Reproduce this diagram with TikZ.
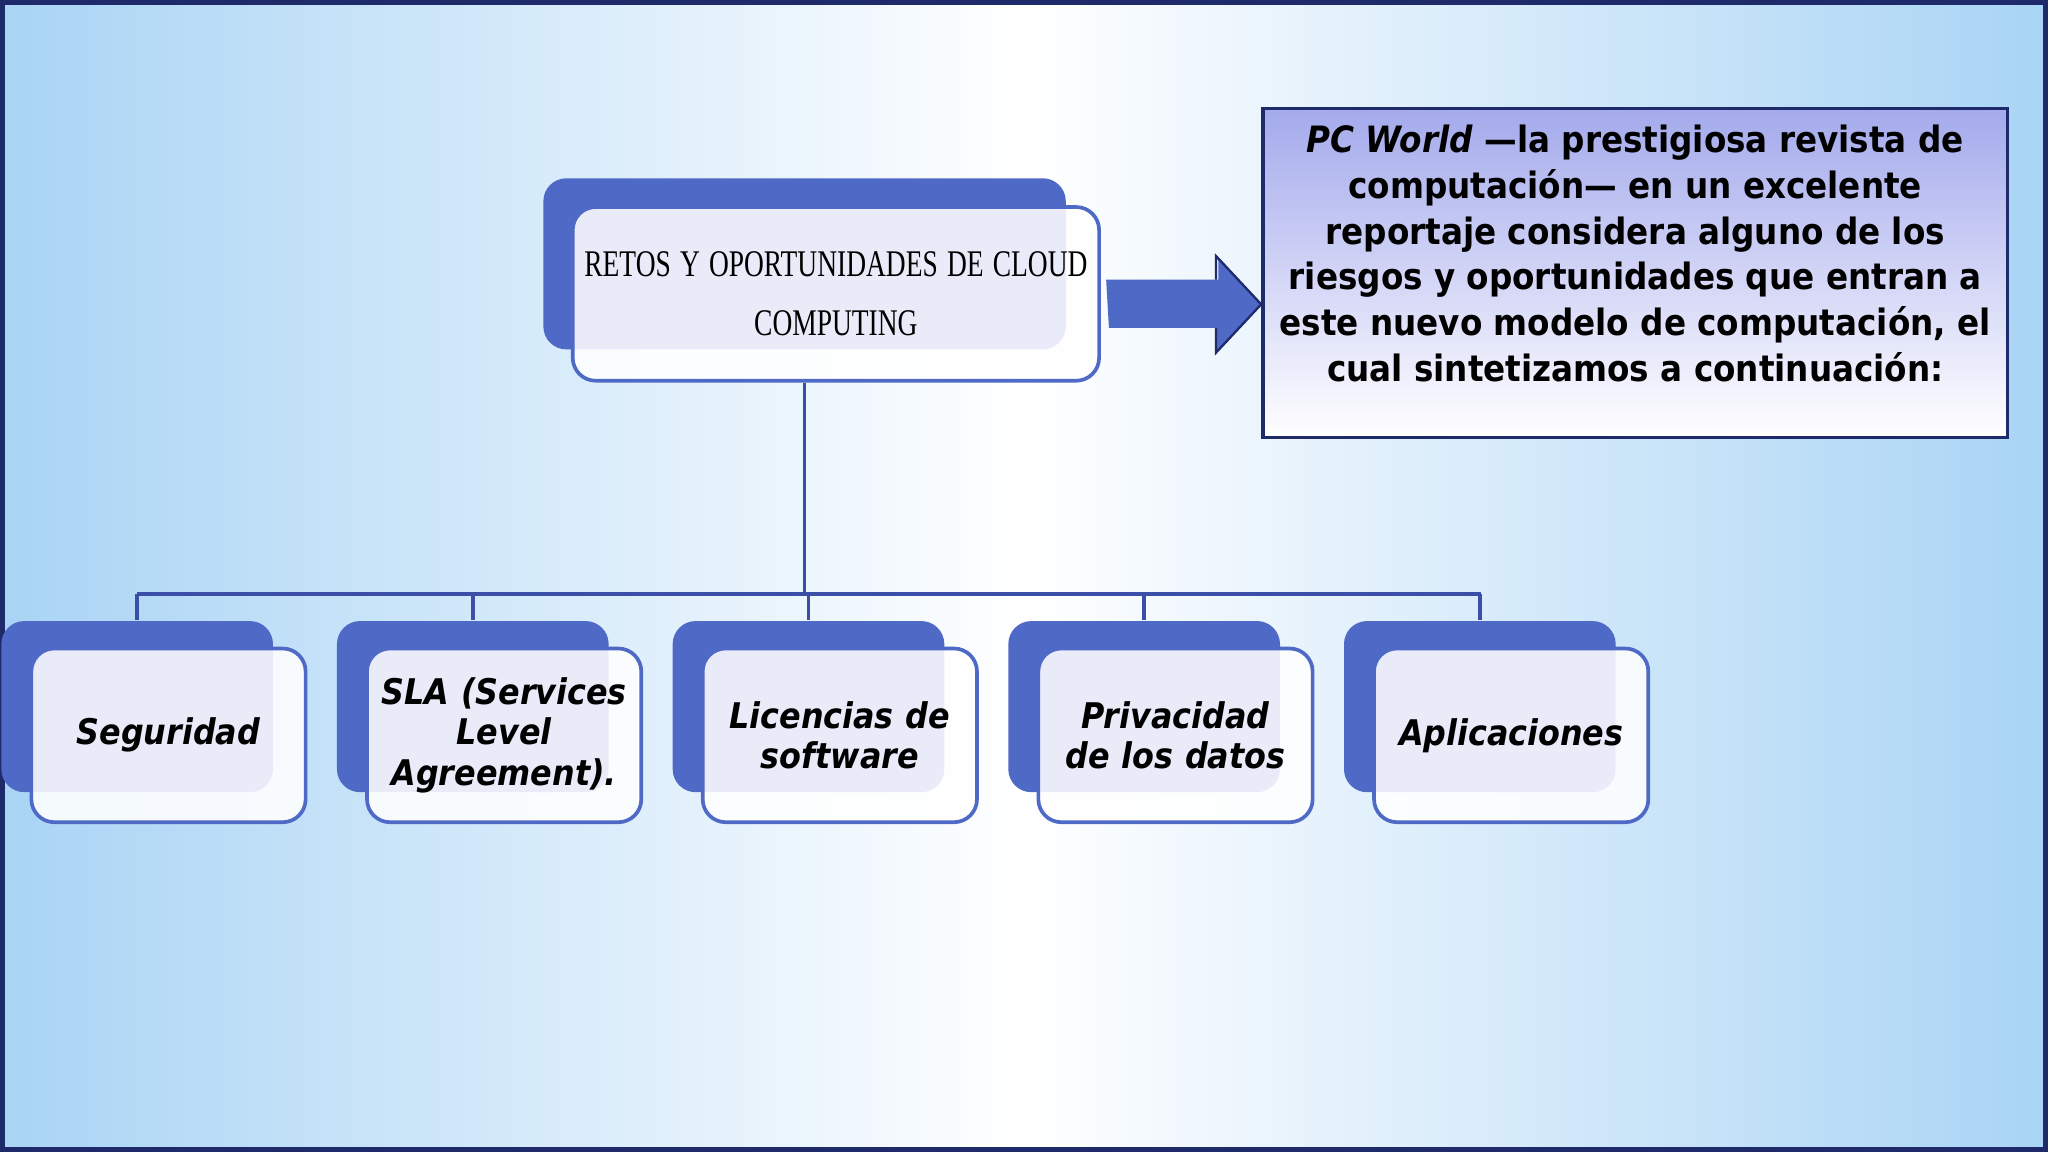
\documentclass[tikz,border=0pt]{standalone}
\usepackage{fontspec}
\setmainfont{DejaVu Sans}
\newfontfamily\titlefont{Liberation Serif}
\newfontfamily\condfont{DejaVu Sans Condensed}
\usetikzlibrary{positioning}
\definecolor{boxblue}{HTML}{4F69C6}
\definecolor{linkblue}{HTML}{3B4FA8}
\definecolor{navy}{HTML}{1F2A6B}
\definecolor{skyblue}{HTML}{A9D4F5}
\definecolor{lavender}{HTML}{A4AAEC}
\tikzset{
  back/.style={fill=boxblue, rounded corners=5pt, minimum width=20.8mm, minimum height=13.1mm},
  front/.style={fill=white, fill opacity=0.88, text opacity=1, draw=boxblue, line width=0.8pt,
    rounded corners=5pt, minimum width=21mm, minimum height=13.3mm, align=center, text width=19mm,
    inner sep=0pt, font=\condfont\fontsize{7.7pt}{8.8pt}\selectfont\bfseries\itshape},
  link/.style={draw=linkblue, line width=0.8pt}
}
\begin{document}
\begin{tikzpicture}[x=0.1mm, y=-0.1mm]
\useasboundingbox (0,0) rectangle (1568,882);
% fondo
\shade[left color=skyblue, right color=white] (0,0) rectangle (784,882);
\shade[left color=white, right color=skyblue] (784,0) rectangle (1568,882);
\draw[navy, line width=1.2pt] (2,2) rectangle (1566,880);
% titulo
\node[back, minimum width=40mm] (tback) at (616,202) {};
\node[front, minimum width=40.3mm, text width=39mm, font=\titlefont\fontsize{8.2pt}{12.8pt}\selectfont] (title) at (640,225)
  {\scalebox{0.73}[1]{RETOS Y OPORTUNIDADES DE CLOUD}\\ \scalebox{0.73}[1]{COMPUTING}};
% texto
\shade[top color=lavender, bottom color=white] (967,83) rectangle (1537,335);
\node[draw=navy, line width=0.8pt, minimum width=57mm, minimum height=25.2mm] (pcbox) at (1252,209) {};
\node[align=center, font=\condfont\fontsize{7.9pt}{9.95pt}\selectfont\bfseries] (pctext) at (1252,194)
  {\textit{PC World} —la prestigiosa revista de\\ computación— en un excelente\\ reportaje considera alguno de los\\
   riesgos y oportunidades que entran a\\ este nuevo modelo de computación, el\\ cual sintetizamos a continuación:};
% flecha
\coordinate (a0) at (title.east |- 0,233);
\fill[boxblue] (a0) ++(4,-19) -- ++(86,0) -- ++(0,-17) -- (pcbox.west |- a0) -- (931,270) -- (931,251) -- (849,251) -- cycle;
\draw[navy, line width=0.5pt] (931,251) -- (931,270) -- (pcbox.west |- a0) -- (931,196) -- (931,214);
% hijos
\coordinate (bus) at (616,455);
\draw[link] (title.south -| tback) -- (bus);
\draw[link] (105,455) -- (1134,455);
\foreach \name/\txt [count=\i from 0] in {seg/Seguridad, sla/{SLA (Services\\ Level\\ Agreement).}, lic/{Licencias de\\ software}, priv/{Privacidad\\ de los datos}, app/Aplicaciones}{
  \node[back] (\name back) at (105+257*\i,541) {};
  \node[front] (\name) at (129+257*\i,563) {\txt};
  \draw[link] (105+257*\i,455) -- (\name back.north);
}
\end{tikzpicture}
\end{document}
